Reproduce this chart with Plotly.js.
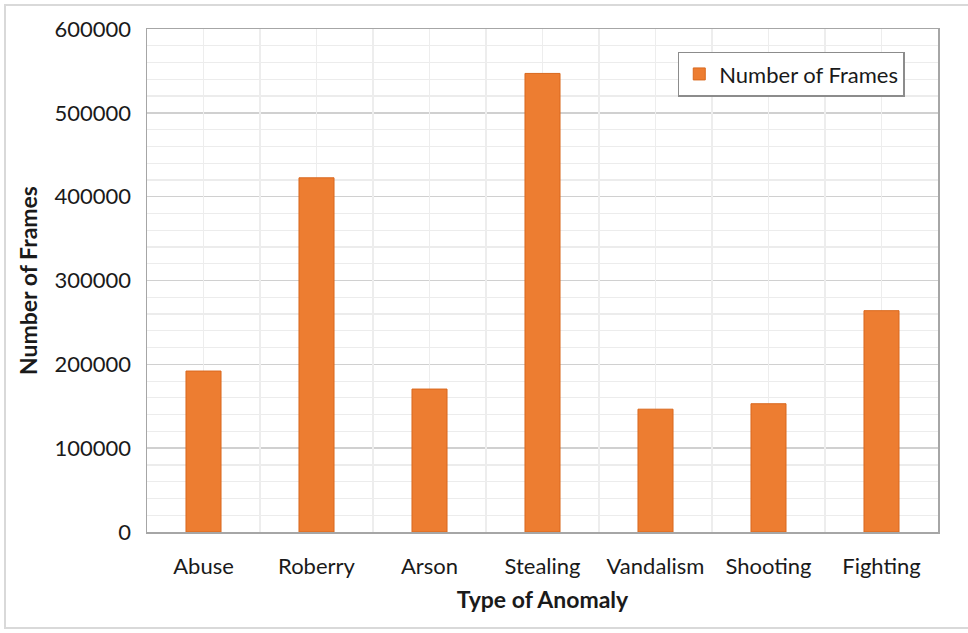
<!DOCTYPE html>
<html>
<head>
<meta charset="utf-8">
<script src="https://cdn.plot.ly/plotly-3.0.1.min.js"></script>
<style>
  html, body { margin: 0; padding: 0; background: #fff; }
  #wrap { position: relative; width: 968px; height: 633px; }
  #chart { width: 968px; height: 633px; }
  #frame { position: absolute; left: 4px; top: 4px; width: 970px; height: 625px; border: 2px solid #d9d9d9; pointer-events: none; box-sizing: border-box; }
</style>
</head>
<body>
<div id="wrap">
  <div id="chart"></div>
  <div id="frame"></div>
</div>
<script>
const categories = ["Abuse", "Roberry", "Arson", "Stealing", "Vandalism", "Shooting", "Fighting"];
const frames = [192000, 422500, 170500, 547000, 146500, 153000, 264000];
const seriesName = "Number of Frames";

const FONT = "Lato, Calibri, 'Open Sans', sans-serif";

const traces = [
  {
    type: "bar",
    x: categories,
    y: frames,
    name: seriesName,
    width: 0.31,
    marker: { color: "#ED7D31", line: { color: "#D9681E", width: 1 } },
    showlegend: true
  },
  {
    type: "scatter",
    x: [],
    y: [],
    xaxis: "x2",
    showlegend: false,
    hoverinfo: "skip"
  }
];

const layout = {
  width: 968,
  height: 633,
  margin: { l: 147, r: 30, t: 29, b: 101 },
  paper_bgcolor: "#ffffff",
  plot_bgcolor: "#ffffff",
  font: { family: FONT, color: "#1a1a1a", size: 21 },
  showlegend: true,
  legend: {
    x: 0.671, y: 0.955, xanchor: "left", yanchor: "top",
    bgcolor: "#ffffff", bordercolor: "#8c8c8c", borderwidth: 1.5,
    font: { family: FONT, size: 22, color: "#1a1a1a" },
    itemwidth: 30
  },
  xaxis: {
    type: "category",
    showgrid: false,
    showline: true, linecolor: "#a6a6a6", linewidth: 1.5, mirror: true,
    ticks: "",
    tickfont: { family: FONT, size: 22, color: "#1a1a1a" },
    ticklabelstandoff: 14,
    title: { text: "Type of Anomaly", font: { family: FONT, size: 23, color: "#1a1a1a", weight: "bold" }, standoff: 14 },
    range: [-0.5, 6.5],
    zeroline: false
  },
  xaxis2: {
    overlaying: "x",
    type: "linear",
    range: [-0.5, 6.5],
    tick0: -0.5, dtick: 0.5,
    showgrid: true, gridcolor: "#ededed", gridwidth: 1.5,
    showticklabels: false, ticks: "", showline: false, zeroline: false
  },
  yaxis: {
    range: [0, 600000],
    dtick: 100000,
    tickformat: "d",
    showgrid: true, gridcolor: "#d0d0d0", gridwidth: 1.5,
    minor: { dtick: 20000, showgrid: true, gridcolor: "#ececec", gridwidth: 1.2 },
    showline: true, linecolor: "#a6a6a6", linewidth: 1.5, mirror: true,
    ticks: "",
    zeroline: false,
    tickfont: { family: FONT, size: 22, color: "#1a1a1a" },
    ticklabelstandoff: 10,
    title: { text: "Number of Frames", font: { family: FONT, size: 23, color: "#1a1a1a", weight: "bold" }, standoff: 10 }
  }
};

Plotly.newPlot("chart", traces, layout, { displayModeBar: false, staticPlot: true });
</script>
</body>
</html>
